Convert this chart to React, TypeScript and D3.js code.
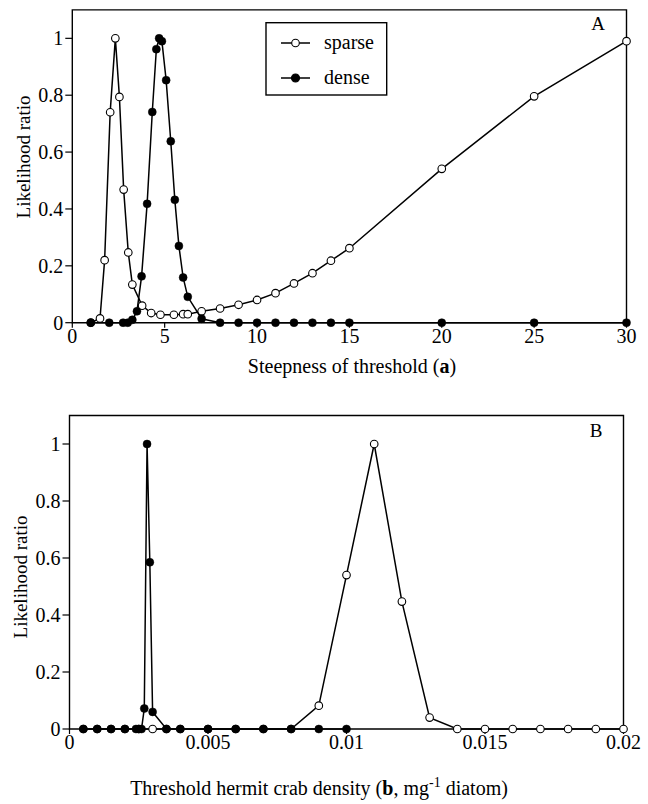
import React from "react";
import * as d3 from "d3";

// Panel A: steepness of threshold (a)
const aSparseX = [1, 1.5, 1.75, 2.05, 2.33, 2.55, 2.78, 3.03, 3.25, 3.78, 4.27, 4.77, 5.5, 6.0, 6.25, 7.0, 8, 9, 10, 11, 12, 13, 14, 15, 20, 25, 30];
const aSparseY = [0, 0.015, 0.22, 0.74, 1.0, 0.794, 0.468, 0.247, 0.134, 0.06, 0.034, 0.028, 0.028, 0.03, 0.03, 0.04, 0.05, 0.063, 0.08, 0.104, 0.138, 0.174, 0.218, 0.262, 0.541, 0.796, 0.99];
const aDenseX = [1, 2, 2.75, 3.0, 3.25, 3.5, 3.75, 4.05, 4.33, 4.55, 4.7, 4.85, 5.08, 5.33, 5.55, 5.77, 6.0, 6.25, 7.0, 8, 9, 10, 11, 12, 13, 14, 15, 20, 25, 30];
const aDenseY = [0, 0, 0, 0, 0.01, 0.04, 0.163, 0.418, 0.741, 0.962, 1.0, 0.99, 0.853, 0.638, 0.432, 0.27, 0.159, 0.091, 0.014, 0, 0, 0, 0, 0, 0, 0, 0, 0, 0, 0];
const aTicks = [0, 5, 10, 15, 20, 25, 30];

// Panel B: threshold hermit crab density (b)
const bSparseX = [0.0005, 0.001, 0.0015, 0.002, 0.0025, 0.003, 0.0035, 0.004, 0.005, 0.006, 0.007, 0.008, 0.009, 0.01, 0.011, 0.012, 0.013, 0.014, 0.015, 0.016, 0.017, 0.018, 0.019, 0.02];
const bSparseY = [0, 0, 0, 0, 0, 0, 0, 0, 0, 0, 0, 0, 0.082, 0.54, 1.0, 0.447, 0.04, 0, 0, 0, 0, 0, 0, 0];
const bDenseX = [0.0005, 0.001, 0.0015, 0.002, 0.0024, 0.0025, 0.0026, 0.0027, 0.0028, 0.0029, 0.003, 0.0035, 0.004, 0.005, 0.006, 0.007, 0.008, 0.009, 0.01];
const bDenseY = [0, 0, 0, 0, 0, 0, 0, 0.072, 1.0, 0.585, 0.06, 0, 0, 0, 0, 0, 0, 0, 0];
const bTicks = [0, 0.005, 0.01, 0.015, 0.02];
const bTickLabels = ["0", "0.005", "0.01", "0.015", "0.02"];

const yTicks = [0, 0.2, 0.4, 0.6, 0.8, 1];
const yTickLabels = ["0", "0.2", "0.4", "0.6", "0.8", "1"];
const seriesNames = ["sparse", "dense"];

const FONT = "Liberation Serif";

type PanelProps = {
  x: d3.ScaleLinear<number, number>;
  y: d3.ScaleLinear<number, number>;
  sx: number[]; sy: number[]; dx: number[]; dy: number[];
  xticks: number[]; xlabels: string[];
  letter: string; letterX: number; letterY: number;
  ylabelX: number; ylabelY: number;
};

function Panel(p: PanelProps) {
  const { x, y } = p;
  const [x0, x1] = x.range();
  const [yb, yt] = y.range();
  const line = d3.line<[number, number]>().x((d) => x(d[0])).y((d) => y(d[1]));
  const sparse = p.sx.map((v, i) => [v, p.sy[i]] as [number, number]);
  const dense = p.dx.map((v, i) => [v, p.dy[i]] as [number, number]);
  return (
    <g>
      <path d={`M${x0},${yb}V${yt}H${x1}V${yb}Z`} fill="none" stroke="#000" strokeWidth={1.4} />
      {yTicks.map((t, i) => (
        <g key={"y" + i}>
          <line x1={x0 - 7} x2={x0} y1={y(t)} y2={y(t)} stroke="#000" strokeWidth={1.2} />
          <text x={x0 - 9} y={y(t)} dy="0.34em" textAnchor="end" fontSize={20} style={{ fontFamily: FONT }}>{yTickLabels[i]}</text>
        </g>
      ))}
      {p.xticks.map((t, i) => (
        <g key={"x" + i}>
          <line x1={x(t)} x2={x(t)} y1={yb} y2={yb + 5} stroke="#000" strokeWidth={1.2} />
          <text x={x(t)} y={yb + 20} textAnchor="middle" fontSize={20} style={{ fontFamily: FONT }}>{p.xlabels[i]}</text>
        </g>
      ))}
      <text transform={`translate(${p.ylabelX},${p.ylabelY}) rotate(-90)`} textAnchor="middle" fontSize={19} style={{ fontFamily: FONT }}>Likelihood ratio</text>
      <text x={p.letterX} y={p.letterY} textAnchor="middle" fontSize={19} style={{ fontFamily: FONT }}>{p.letter}</text>
      <path d={line(sparse) || ""} fill="none" stroke="#000" strokeWidth={1.5} />
      {sparse.map((d, i) => (
        <circle key={"s" + i} cx={x(d[0])} cy={y(d[1])} r={3.8} fill="#fff" stroke="#000" strokeWidth={1.1} />
      ))}
      <path d={line(dense) || ""} fill="none" stroke="#000" strokeWidth={1.5} />
      {dense.map((d, i) => (
        <circle key={"d" + i} cx={x(d[0])} cy={y(d[1])} r={4} fill="#000" stroke="#000" strokeWidth={0.5} />
      ))}
    </g>
  );
}

export default function App() {
  const xA = d3.scaleLinear().domain([0, 30]).range([72.3, 626.5]);
  const yA = d3.scaleLinear().domain([0, 1.1]).range([322.7, 9.9]);
  const xB = d3.scaleLinear().domain([0, 0.02]).range([69.5, 623.5]);
  const yB = d3.scaleLinear().domain([0, 1.1]).range([729, 415.5]);
  return (
    <svg width={648} height={804} style={{ position: "absolute", left: 0, top: 0, background: "#fff", fontFamily: FONT }}>
      <rect width={648} height={804} fill="#fff" />
      <Panel x={xA} y={yA} sx={aSparseX} sy={aSparseY} dx={aDenseX} dy={aDenseY}
        xticks={aTicks} xlabels={aTicks.map(String)} letter="A" letterX={598} letterY={30}
        ylabelX={30} ylabelY={157} />
      <text x={352} y={373} textAnchor="middle" fontSize={20} style={{ fontFamily: FONT }}>
        Steepness of threshold (<tspan fontWeight="bold">a</tspan>)
      </text>
      {/* legend */}
      <g>
        <rect x={266} y={22.7} width={120.7} height={72.3} fill="#fff" stroke="#000" strokeWidth={1.4} />
        {seriesNames.map((s, i) => {
          const yy = 43 + i * 35;
          return (
            <g key={s}>
              <line x1={281} x2={310} y1={yy} y2={yy} stroke="#000" strokeWidth={1.5} />
              <circle cx={295.5} cy={yy} r={i === 0 ? 3.8 : 4} fill={i === 0 ? "#fff" : "#000"} stroke="#000" strokeWidth={1.1} />
              <text x={324} y={yy} dy="0.3em" fontSize={20} style={{ fontFamily: FONT }}>{s}</text>
            </g>
          );
        })}
      </g>
      <Panel x={xB} y={yB} sx={bSparseX} sy={bSparseY} dx={bDenseX} dy={bDenseY}
        xticks={bTicks} xlabels={bTickLabels} letter="B" letterX={596} letterY={437}
        ylabelX={27} ylabelY={577} />
      <text x={319} y={795} textAnchor="middle" fontSize={20} style={{ fontFamily: FONT }}>
        Threshold hermit crab density (<tspan fontWeight="bold">b</tspan>, mg<tspan dy={-8} fontSize={14}>-1</tspan><tspan dy={8}> diatom)</tspan>
      </text>
    </svg>
  );
}
